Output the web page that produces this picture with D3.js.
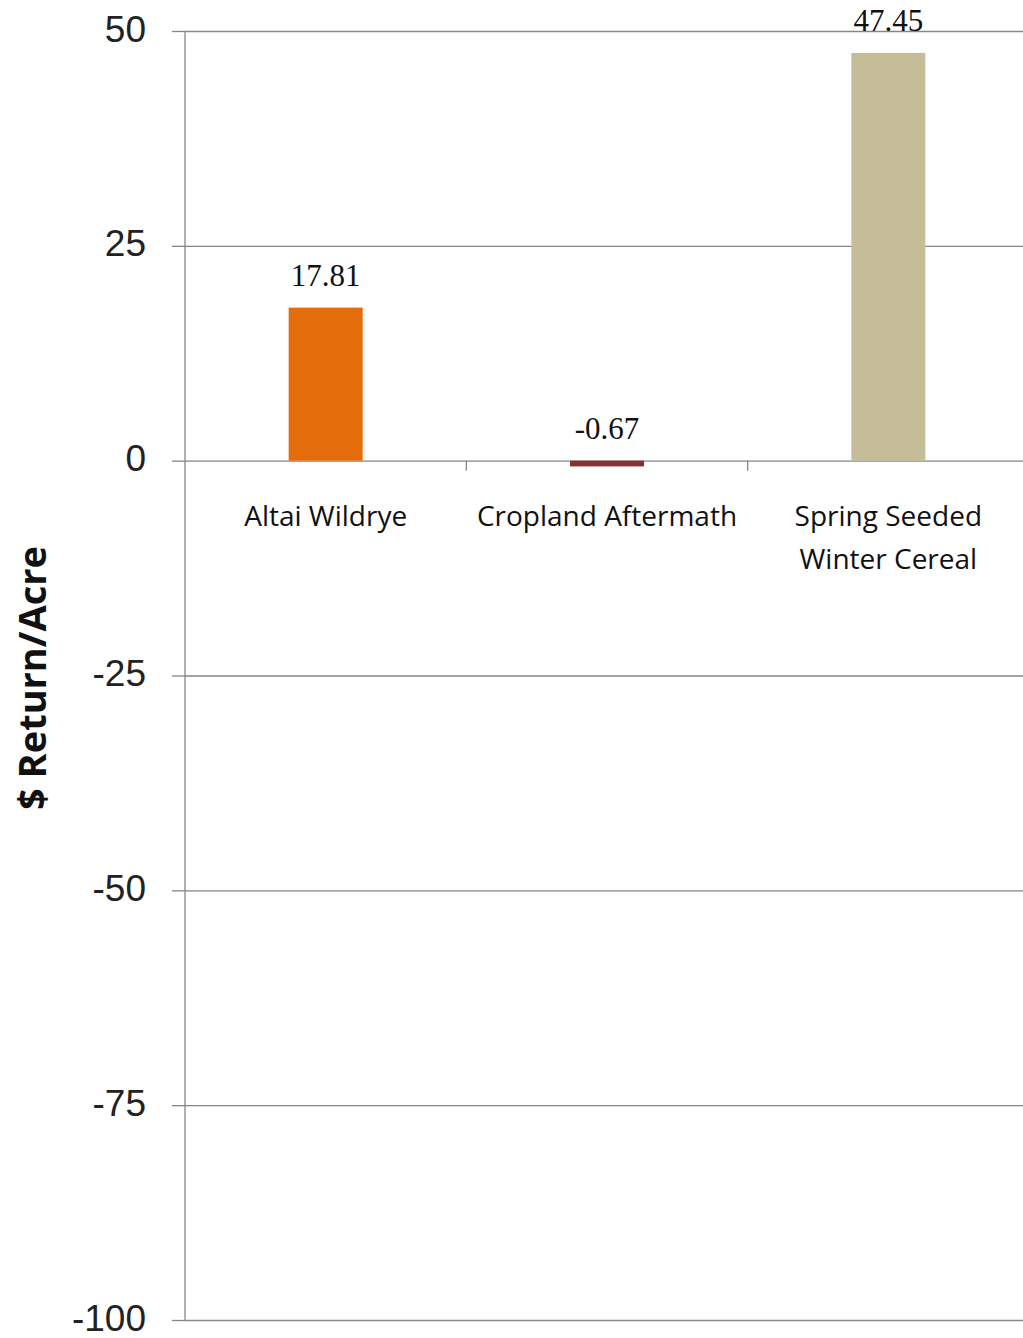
<!DOCTYPE html>
<html><head><meta charset="utf-8">
<script src="https://cdn.jsdelivr.net/npm/d3@7"></script>
<style>html,body{margin:0;padding:0;background:#fff;overflow:hidden}</style>
</head><body>
<svg id="chart" width="1023" height="1338"></svg>
<script>
const categories = [["Altai Wildrye"], ["Cropland Aftermath"], ["Spring Seeded", "Winter Cereal"]];
const values = [17.81, -0.67, 47.45];
const valueLabels = ["17.81", "-0.67", "47.45"];
const colors = ["#e46c0a", "#8b2f33", "#c4bd97"];
const yTicks = [50, 25, 0, -25, -50, -75, -100];
const yTickLabels = ["50", "25", "0", "-25", "-50", "-75", "-100"];
const yTitle = "$ Return/Acre";

(function () {
const svg = d3.select("#chart");
const mLeft = 185, mRight = 1029, mTop = 31, mBottom = 1320;
const y = d3.scaleLinear().domain([-100, 50]).range([mBottom, mTop]);
const x = d3.scaleBand().domain(d3.range(categories.length)).range([mLeft, mRight]).padding(0);
const barW = x.bandwidth() * 0.263;
const grid = "#868686";
const sans = "'Open Sans', 'Noto Sans', sans-serif";

// gridlines + y ticks
const yAxis = d3.axisLeft(y).tickValues(yTicks).tickSize(13)
  .tickFormat(d => yTickLabels[yTicks.indexOf(d)]);
const yg = svg.append("g").attr("transform", `translate(${mLeft},0)`).call(yAxis);
yg.select(".domain").remove();
yg.selectAll(".tick line").attr("stroke", grid).attr("stroke-width", 1.3);
yg.selectAll(".tick").append("line").attr("x1", 0).attr("x2", mRight - mLeft).attr("stroke", grid).attr("stroke-width", 1.3);
yg.selectAll(".tick text").attr("x", -39).attr("dy", null).attr("y", 10).attr("fill", "#222")
  .style("font-family", "'Liberation Sans', Arial, sans-serif").style("font-size", "37px").attr("text-anchor", "end");

// axis line
svg.append("line").attr("x1", mLeft).attr("x2", mLeft).attr("y1", mTop).attr("y2", mBottom)
  .attr("stroke", grid).attr("stroke-width", 1.3);

// category ticks on zero line
const bounds = d3.range(categories.length + 1).map(i => mLeft + i * x.step());
svg.selectAll(".ctick").data(bounds.slice(1, -1)).join("line")
  .attr("x1", d => d).attr("x2", d => d).attr("y1", y(0)).attr("y2", y(0) + 10)
  .attr("stroke", grid).attr("stroke-width", 1.3);

// bars
svg.selectAll(".bar").data(values).join("rect")
  .attr("x", (d, i) => x(i) + x.bandwidth() / 2 - barW / 2)
  .attr("width", barW)
  .attr("y", d => y(Math.max(0, d)))
  .attr("height", d => Math.max(Math.abs(y(d) - y(0)), 1))
  .attr("fill", (d, i) => colors[i]);

// value labels
svg.selectAll(".vl").data(values).join("text")
  .attr("x", (d, i) => x(i) + x.bandwidth() / 2)
  .attr("y", d => Math.min(y(d), y(0)) - 22)
  .attr("text-anchor", "middle")
  .style("font-family", "'Liberation Serif', serif").style("font-size", "31px").attr("fill", "#111")
  .text((d, i) => valueLabels[i]);

// category labels
const cl = svg.selectAll(".cl").data(categories).join("text")
  .attr("text-anchor", "middle").attr("fill", "#111")
  .style("font-family", sans).style("font-size", "28px");
cl.each(function(lines, i) {
  const t = d3.select(this);
  lines.forEach((ln, j) => {
    t.append("tspan").attr("x", x(i) + x.bandwidth() / 2).attr("y", 526 + j * 43).text(ln);
  });
});

// y title
svg.append("text").attr("transform", "translate(46,678) rotate(-90)")
  .attr("text-anchor", "middle").attr("fill", "#111")
  .style("font-family", sans).style("font-weight", "bold").style("font-size", "38px")
  .text(yTitle);
})();
</script>
</body></html>
